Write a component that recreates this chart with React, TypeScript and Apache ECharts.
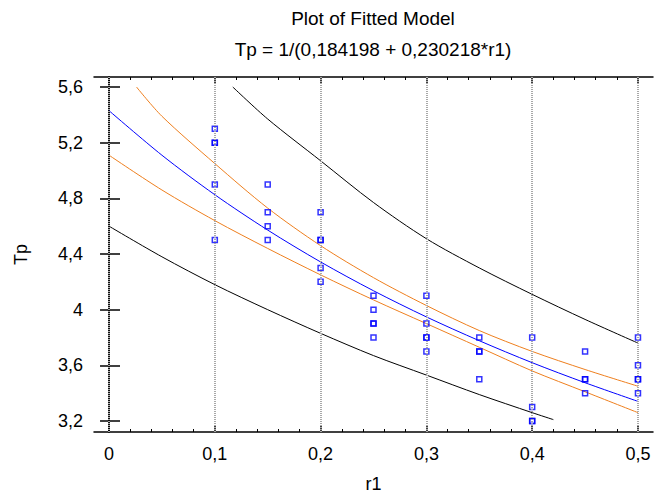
import React, { useEffect, useRef } from "react";
import * as echarts from "echarts";

// Observations
const obsR1 = [
  0.1, 0.1, 0.1, 0.1, 0.1,
  0.15, 0.15, 0.15, 0.15,
  0.2, 0.2, 0.2, 0.2, 0.2,
  0.25, 0.25, 0.25, 0.25, 0.25,
  0.3, 0.3, 0.3, 0.3, 0.3,
  0.35, 0.35, 0.35, 0.35,
  0.4, 0.4, 0.4, 0.4,
  0.45, 0.45, 0.45, 0.45,
  0.5, 0.5, 0.5, 0.5, 0.5,
];
const obsTp = [
  5.3, 5.2, 5.2, 4.9, 4.5,
  4.9, 4.7, 4.6, 4.5,
  4.7, 4.5, 4.5, 4.3, 4.2,
  4.1, 4.0, 3.9, 3.9, 3.8,
  4.1, 3.9, 3.8, 3.8, 3.7,
  3.8, 3.7, 3.7, 3.5,
  3.8, 3.3, 3.2, 3.2,
  3.7, 3.5, 3.5, 3.4,
  3.8, 3.6, 3.5, 3.5, 3.4,
];

// Fitted curve
const fitR1 = [0, 0.05, 0.1, 0.15, 0.2, 0.25, 0.3, 0.35, 0.4, 0.45, 0.5];
const fitTp = [5.43, 5.11, 4.826, 4.572, 4.343, 4.136, 3.948, 3.777, 3.619, 3.475, 3.341];

// Confidence limits (orange)
const confUpR1 = [0.026, 0.05, 0.1, 0.15, 0.2, 0.25, 0.3, 0.35, 0.4, 0.45, 0.5];
const confUpTp = [5.6, 5.39, 5.05, 4.73, 4.46, 4.23, 4.03, 3.85, 3.7, 3.57, 3.45];
const confLoR1 = [0, 0.05, 0.1, 0.15, 0.2, 0.25, 0.3, 0.35, 0.4, 0.45, 0.5];
const confLoTp = [5.11, 4.86, 4.64, 4.44, 4.25, 4.07, 3.9, 3.73, 3.56, 3.41, 3.26];

// Prediction limits (black)
const predUpR1 = [0.117, 0.15, 0.2, 0.25, 0.3, 0.35, 0.4, 0.45, 0.5];
const predUpTp = [5.6, 5.37, 5.07, 4.77, 4.51, 4.3, 4.11, 3.93, 3.76];
const predLoR1 = [0, 0.05, 0.1, 0.15, 0.2, 0.25, 0.3, 0.35, 0.4, 0.42];
const predLoTp = [4.6, 4.38, 4.18, 4.0, 3.83, 3.67, 3.53, 3.39, 3.26, 3.21];

// Axis ticks
const xMajor = [0, 0.1, 0.2, 0.3, 0.4, 0.5];
const xMinor = [
  0.02, 0.04, 0.06, 0.08, 0.12, 0.14, 0.16, 0.18, 0.22, 0.24, 0.26, 0.28,
  0.32, 0.34, 0.36, 0.38, 0.42, 0.44, 0.46, 0.48,
];
const yMajor = [3.2, 3.6, 4, 4.4, 4.8, 5.2, 5.6];

const FONT = "'Liberation Sans', Arial, sans-serif";
const comma = (v: number) => String(v).replace(".", ",");

const pairs = (xs: number[], ys: number[]) => xs.map((x, i) => [x, ys[i]]);

export default function App() {
  const ref = useRef<HTMLDivElement>(null);
  useEffect(() => {
    if (!ref.current) return;
    const chart = echarts.init(ref.current, undefined, { renderer: "svg" });
    const X_MIN = -0.0142;
    const X_MAX = 0.5142;
    const Y_MIN = 3.121;
    const Y_MAX = 5.672;
    const baseX = {
      type: "value" as const,
      min: X_MIN,
      max: X_MAX,
      splitLine: { show: false },
    };
    const baseY = {
      type: "value" as const,
      min: Y_MIN,
      max: Y_MAX,
      splitLine: { show: false },
    };
    const lineSeries = (xs: number[], ys: number[], color: string) => ({
      type: "line",
      data: pairs(xs, ys),
      smooth: 0.3,
      showSymbol: false,
      symbol: "none",
      lineStyle: { color, width: 1 },
      xAxisIndex: 0,
      yAxisIndex: 0,
      z: 3,
    });
    chart.setOption({
      animation: false,
      backgroundColor: "#ffffff",
      title: [
        {
          text: "Plot of Fitted Model",
          left: 373,
          top: 9,
          padding: 0,
          textAlign: "center",
          textStyle: { fontFamily: FONT, fontSize: 19, fontWeight: "normal", color: "#000" },
        },
        {
          text: "Tp = 1/(0,184198 + 0,230218*r1)",
          left: 373,
          top: 40,
          padding: 0,
          textAlign: "center",
          textStyle: { fontFamily: FONT, fontSize: 19, fontWeight: "normal", color: "#000" },
        },
      ],
      grid: { left: 94, top: 77, width: 559, height: 356, containLabel: false },
      xAxis: [
        {
          ...baseX,
          position: "bottom",
          name: "r1",
          nameLocation: "middle",
          nameGap: 43,
          nameTextStyle: { fontFamily: FONT, fontSize: 18, color: "#000" },
          axisLine: { show: true, lineStyle: { color: "#000", width: 1.5 } },
          axisTick: { show: true, inside: true, length: 7, customValues: xMajor, lineStyle: { color: "#000", width: 1.5 } },
          axisLabel: { show: true, customValues: xMajor, formatter: comma, margin: 13, fontFamily: FONT, fontSize: 18, color: "#000" },
        },
        {
          ...baseX,
          position: "bottom",
          axisLine: { show: false },
          axisTick: { show: true, inside: true, length: 3, customValues: xMinor, lineStyle: { color: "#000", width: 1 } },
          axisLabel: { show: false },
        },
        {
          ...baseX,
          position: "top",
          axisLine: { show: true, lineStyle: { color: "#000", width: 1.5 } },
          axisTick: { show: true, inside: true, length: 6, customValues: xMajor, lineStyle: { color: "#000", width: 1.5 } },
          axisLabel: { show: false },
        },
        {
          ...baseX,
          position: "top",
          axisLine: { show: false },
          axisTick: { show: true, inside: true, length: 3, customValues: xMinor, lineStyle: { color: "#000", width: 1 } },
          axisLabel: { show: false },
        },
      ],
      yAxis: [
        {
          ...baseY,
          position: "left",
          name: "Tp",
          nameLocation: "middle",
          nameGap: 64,
          nameTextStyle: { fontFamily: FONT, fontSize: 18, color: "#000" },
          axisLine: { show: true, lineStyle: { color: "#000", width: 1.5 } },
          axisTick: { show: true, inside: true, length: 11, customValues: yMajor, lineStyle: { color: "#000", width: 1.5 } },
          axisLabel: { show: true, customValues: yMajor, formatter: comma, margin: 11, fontFamily: FONT, fontSize: 18, color: "#000" },
        },
        {
          ...baseY,
          position: "right",
          axisLine: { show: true, lineStyle: { color: "#000", width: 1.5 } },
          axisTick: { show: true, inside: true, length: 9, customValues: yMajor, lineStyle: { color: "#000", width: 1.5 } },
          axisLabel: { show: false },
        },
      ],
      series: [
        {
          type: "line",
          data: [],
          xAxisIndex: 0,
          yAxisIndex: 0,
          z: 1,
          markLine: {
            silent: true,
            symbol: "none",
            label: { show: false },
            lineStyle: { color: "#a8a8a8", width: 2, type: [1, 1] },
            data: xMajor.map((v) => ({ xAxis: v })),
          },
        },
        lineSeries(predUpR1, predUpTp, "#000000"),
        lineSeries(predLoR1, predLoTp, "#000000"),
        lineSeries(confUpR1, confUpTp, "#ee7f1e"),
        lineSeries(confLoR1, confLoTp, "#ee7f1e"),
        lineSeries(fitR1, fitTp, "#0000ff"),
        {
          type: "scatter",
          data: pairs(obsR1, obsTp),
          symbol: "rect",
          symbolSize: 5,
          xAxisIndex: 0,
          yAxisIndex: 0,
          itemStyle: { color: "rgba(255,255,255,0)", borderColor: "#0000ff", borderWidth: 1.5 },
          z: 4,
        },
      ],
    });
    return () => chart.dispose();
  }, []);
  return (
    <div
      ref={ref}
      style={{ position: "fixed", left: 0, top: 0, width: 654, height: 498 }}
    />
  );
}
